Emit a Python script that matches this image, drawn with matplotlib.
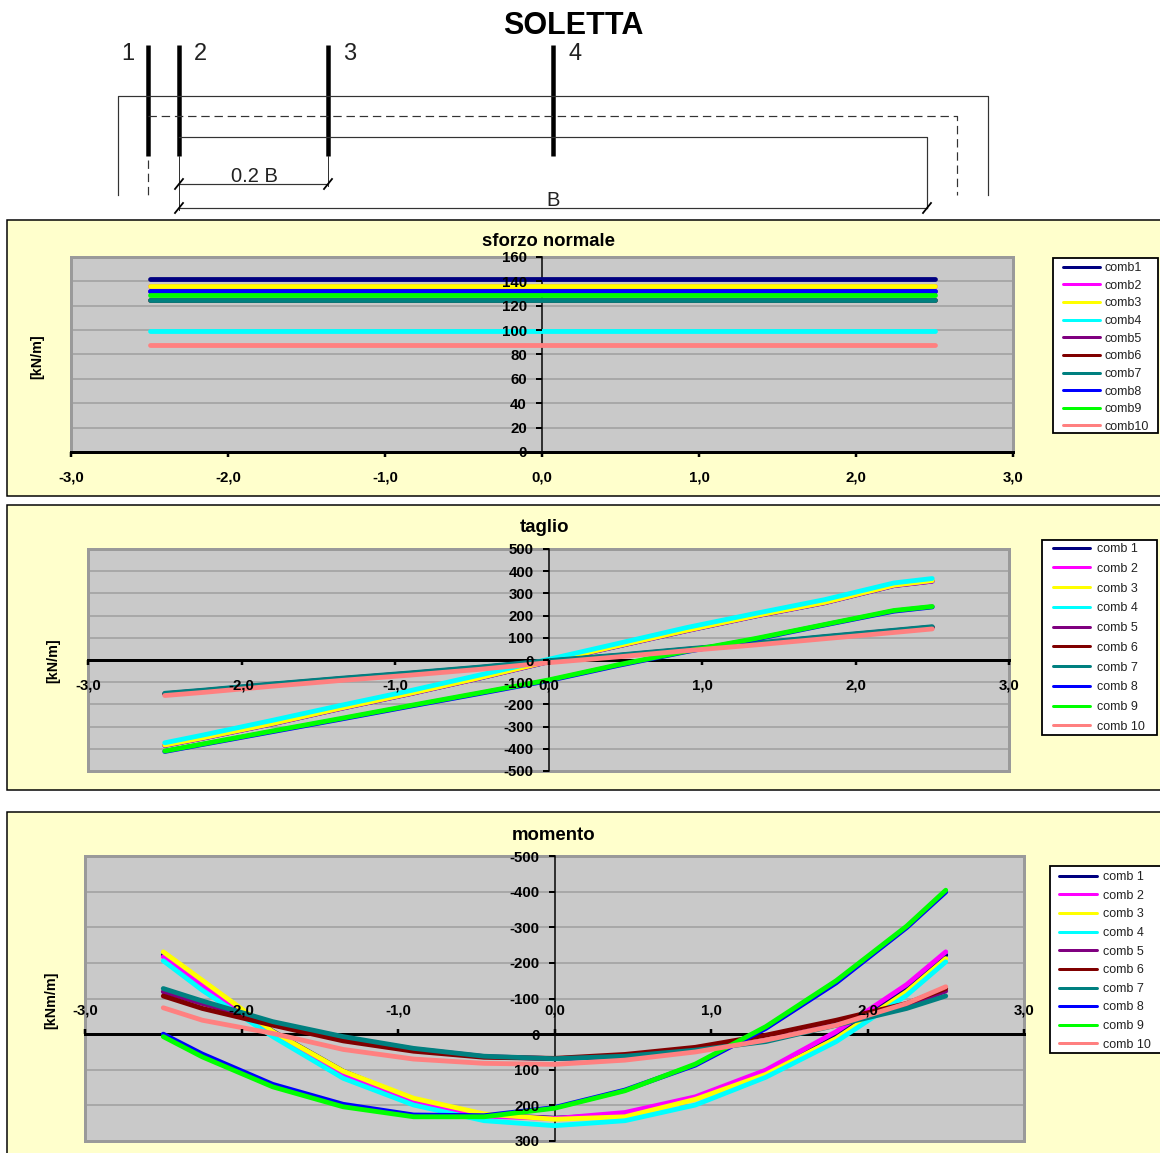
import matplotlib
matplotlib.use('Agg')
import matplotlib.pyplot as plt
from matplotlib.patches import Rectangle

W = 1160
H = 1153
plt.rcParams['font.family'] = ['Liberation Sans', 'DejaVu Sans']

Colors = ['#000080', '#FF00FF', '#FFFF00', '#00FFFF', '#800080',
          '#800000', '#008080', '#0000FF', '#00FF00', '#FF8080']

# stations along the slab
X = [-2.5, -2.25, -1.8, -1.35, -0.9, -0.45, 0, 0.45, 0.9, 1.35, 1.8, 2.25, 2.5]
XN = [-2.5, 2.5]

# sforzo normale
N1 = [142, 142]
N2 = [136, 136]
N3 = [136, 136]
N4 = [99.5, 99.5]
N5 = [132, 132]
N6 = [124.5, 124.5]
N7 = [124.5, 124.5]
N8 = [132, 132]
N9 = [129, 129]
N10 = [88, 88]

# taglio
T1 = [-385, -352, -288, -218, -152, -82, -8, 62, 132, 198, 258, 335, 355]
T2 = [-384, -351, -287, -217, -151, -81, -7, 63, 133, 199, 259, 336, 356]
T3 = [-383, -350, -286, -216, -150, -80, -6, 64, 134, 200, 260, 337, 358]
T4 = [-373, -338, -272, -204, -138, -68, 3, 74, 146, 210, 272, 347, 367]
T5 = [-152, -138, -110, -84, -60, -34, -5, 20, 48, 74, 104, 132, 148]
T6 = [-153, -139, -111, -85, -61, -35, -6, 19, 47, 73, 103, 131, 147]
T7 = [-150, -136, -108, -82, -58, -32, -3, 22, 50, 76, 106, 134, 150]
T8 = [-412, -380, -323, -266, -208, -151, -93, -25, 38, 94, 158, 220, 239]
T9 = [-410, -378, -320, -263, -205, -148, -90, -22, 40, 97, 160, 223, 241]
T10 = [-160, -146, -118, -92, -68, -42, -12, 14, 42, 68, 96, 124, 140]

# momento
M1 = [-222, -144, -8, 104, 185, 227, 236, 227, 180, 107, 0, -130, -222]
M2 = [-217, -137, -2, 113, 190, 230, 237, 220, 176, 101, -7, -139, -231]
M3 = [-231, -151, -7, 104, 180, 224, 239, 232, 183, 113, 12, -119, -212]
M4 = [-206, -123, 7, 124, 199, 243, 257, 243, 199, 121, 21, -109, -203]
M5 = [-119, -86, -32, 10, 42, 63, 69, 62, 44, 18, -28, -80, -121]
M6 = [-107, -72, -25, 19, 48, 65, 68, 57, 37, 3, -39, -86, -128]
M7 = [-128, -93, -35, 7, 40, 62, 69, 62, 45, 21, -25, -72, -107]
M8 = [0, 56, 141, 197, 227, 229, 206, 157, 87, -16, -144, -299, -399]
M9 = [7, 64, 148, 204, 232, 232, 208, 159, 84, -21, -150, -303, -404]
M10 = [-74, -39, -2, 43, 70, 82, 85, 73, 50, 17, -25, -86, -133]

XTicks = [-3, -2, -1, 0, 1, 2, 3]
XLabels = ['-3,0', '-2,0', '-1,0', '0,0', '1,0', '2,0', '3,0']
NTicks = [0, 20, 40, 60, 80, 100, 120, 140, 160]
TTicks = [-500, -400, -300, -200, -100, 0, 100, 200, 300, 400, 500]
MTicks = [-500, -400, -300, -200, -100, 0, 100, 200, 300]

fig = plt.figure(1, figsize=(W/100, H/100), dpi=100, facecolor='white')


def Box(x0, y0, x1, y1):
    return [x0/W, 1-y1/H, (x1-x0)/W, (y1-y0)/H]


def px(p):
    return p*0.72


# page coordinates for the sketch and the yellow panels
bg = fig.add_axes([0, 0, 1, 1], zorder=0)
bg.set_xlim(0, W)
bg.set_ylim(H, 0)
bg.axis('off')

for y0, y1 in [(220, 496), (505, 790), (812, 1170)]:
    bg.add_patch(Rectangle((7, y0), 1170, y1-y0, facecolor='#FFFFCC', edgecolor='black', linewidth=px(1.5)))

for x, lab, lx in [(148, '1', 128), (179, '2', 200), (328, '3', 350), (553, '4', 575)]:
    bg.plot([x, x], [45, 156], color='black', linewidth=px(4.5), solid_capstyle='butt')
    bg.text(lx, 54, lab, fontsize=17, ha='center', va='center', color='#222222')

thin = dict(color='#333333', linewidth=px(1.2))
bg.plot([118, 118, 988, 988], [195, 96, 96, 195], **thin)
bg.plot([148, 957, 957], [116, 116, 195], dashes=(7, 4), **thin)
bg.plot([148, 148], [160, 195], dashes=(7, 4), **thin)
bg.plot([179, 927, 927], [137, 137, 208], **thin)
bg.plot([179, 179], [156, 210], color='#333333', linewidth=px(1))
bg.plot([328, 328], [156, 186], color='#333333', linewidth=px(1))
bg.plot([179, 328], [184, 184], **thin)
bg.plot([179, 927], [208, 208], **thin)
for x, y in [(179, 184), (328, 184), (179, 208), (927, 208)]:
    bg.plot([x-4, x+4], [y+5, y-5], color='black', linewidth=px(1.8))
bg.text(254, 176, '0.2 B', fontsize=14.5, ha='center', va='center', color='#222222')
bg.text(553, 200, 'B', fontsize=14.5, ha='center', va='center', color='#222222')
bg.text(573, 26, 'SOLETTA', fontsize=22, fontweight='bold', ha='center', va='center')


def Chart(box, xs, series, names, yticks, ylim, title, titlepos, ylab, ylabpos, frame, line, textx, legtop, legspace, pad, top=False):
    ax = fig.add_axes(Box(*box), zorder=1)
    ax.set_facecolor('#C9C9C9')
    ax.set_xlim(-3, 3)
    ax.set_ylim(*ylim)
    ax.set_axisbelow(False)
    ax.hlines(yticks, -3, 3, color='#A8A8A8', linewidth=px(2), zorder=1)
    for s, c, n in zip(series, Colors, names):
        ax.plot(xs, s, color=c, linewidth=px(4.8), label=n, zorder=2, solid_capstyle='round', clip_on=False)

    for sp in ax.spines.values():
        sp.set_visible(False)
    ax.add_patch(Rectangle((0, 0), 1, 1, transform=ax.transAxes, fill=False, edgecolor='#9A9A9A',
                           linewidth=px(3), clip_on=False, zorder=1.2))
    hs = 'top' if top else 'bottom'
    ax.spines[hs].set_visible(True)
    ax.spines[hs].set_position(('data', 0))
    ax.spines[hs].set_linewidth(px(3))
    ax.spines[hs].set_zorder(1.5)
    ax.spines['left'].set_visible(True)
    ax.spines['left'].set_position(('data', 0))
    ax.spines['left'].set_linewidth(px(1.5))
    ax.spines['left'].set_zorder(1.5)
    if top:
        ax.xaxis.tick_top()
    ax.set_xticks(XTicks, XLabels)
    ax.set_yticks(yticks, [str(v) for v in yticks])
    ax.tick_params(axis='x', length=px(5), width=px(2.5), pad=pad, labelsize=10.8)
    ax.tick_params(axis='y', length=px(6), width=px(2), pad=px(9), labelsize=10.8)
    for t in ax.get_xticklabels()+ax.get_yticklabels():
        t.set_fontweight('bold')

    bg.text(titlepos[0], titlepos[1], title, fontsize=13.4, fontweight='bold', ha='center', va='center')
    bg.text(ylabpos[0], ylabpos[1], ylab, fontsize=10.3, fontweight='bold', rotation=90, ha='center', va='center')

    # white legend box drawn on the page, entries placed inside it
    x0, y0, x1, y1 = frame
    bg.add_patch(Rectangle((x0, y0), x1-x0, y1-y0, facecolor='white', edgecolor='black', linewidth=px(1.8)))
    start = x0+3
    hl = (line[1]-start)*0.72/9
    tp = (textx-line[1])*0.72/9
    leg = ax.legend(loc='upper left', bbox_to_anchor=(x0/W, 1-(y0+legtop)/H), bbox_transform=fig.transFigure,
                    fontsize=9, frameon=False, borderaxespad=0, labelspacing=legspace, handlelength=hl,
                    handletextpad=tp, borderpad=0.25, labelcolor='#222222')
    for l in leg.get_lines():
        yl = l.get_ydata()[0]
        l.set_data([(line[0]-start)*0.72, (line[1]-start)*0.72], [yl, yl])
        l.set_linewidth(px(3))
    return ax


NormalS = [N1, N2, N3, N4, N5, N6, N7, N8, N9, N10]
TaglioS = [T1, T2, T3, T4, T5, T6, T7, T8, T9, T10]
MomentoS = [M1, M2, M3, M4, M5, M6, M7, M8, M9, M10]
Names1 = ['comb%d' % k for k in range(1, 11)]
Names2 = ['comb %d' % k for k in range(1, 11)]

Chart((71, 257, 1013, 452), XN, NormalS, Names1, NTicks, (0, 160), 'sforzo normale', (548, 242),
      '[kN/m]', (37, 357), (1053, 258, 1158, 433), (1063, 1100), 1104, 1, 0.45, 10)
Chart((88, 549, 1009, 771), X, TaglioS, Names2, TTicks, (-500, 500), 'taglio', (544, 528),
      '[kN/m]', (53, 661), (1042, 540, 1157, 735), (1053, 1090), 1097, 0, 0.62, 10)
Chart((85, 856, 1024, 1141), X, MomentoS, Names2, MTicks, (300, -500), 'momento', (554, 835),
      '[kNm/m]', (51, 1000), (1050, 866, 1175, 1053), (1059, 1097), 1103, 2, 0.53, 8.4, top=True)

fig.savefig('out.png', dpi=100)
